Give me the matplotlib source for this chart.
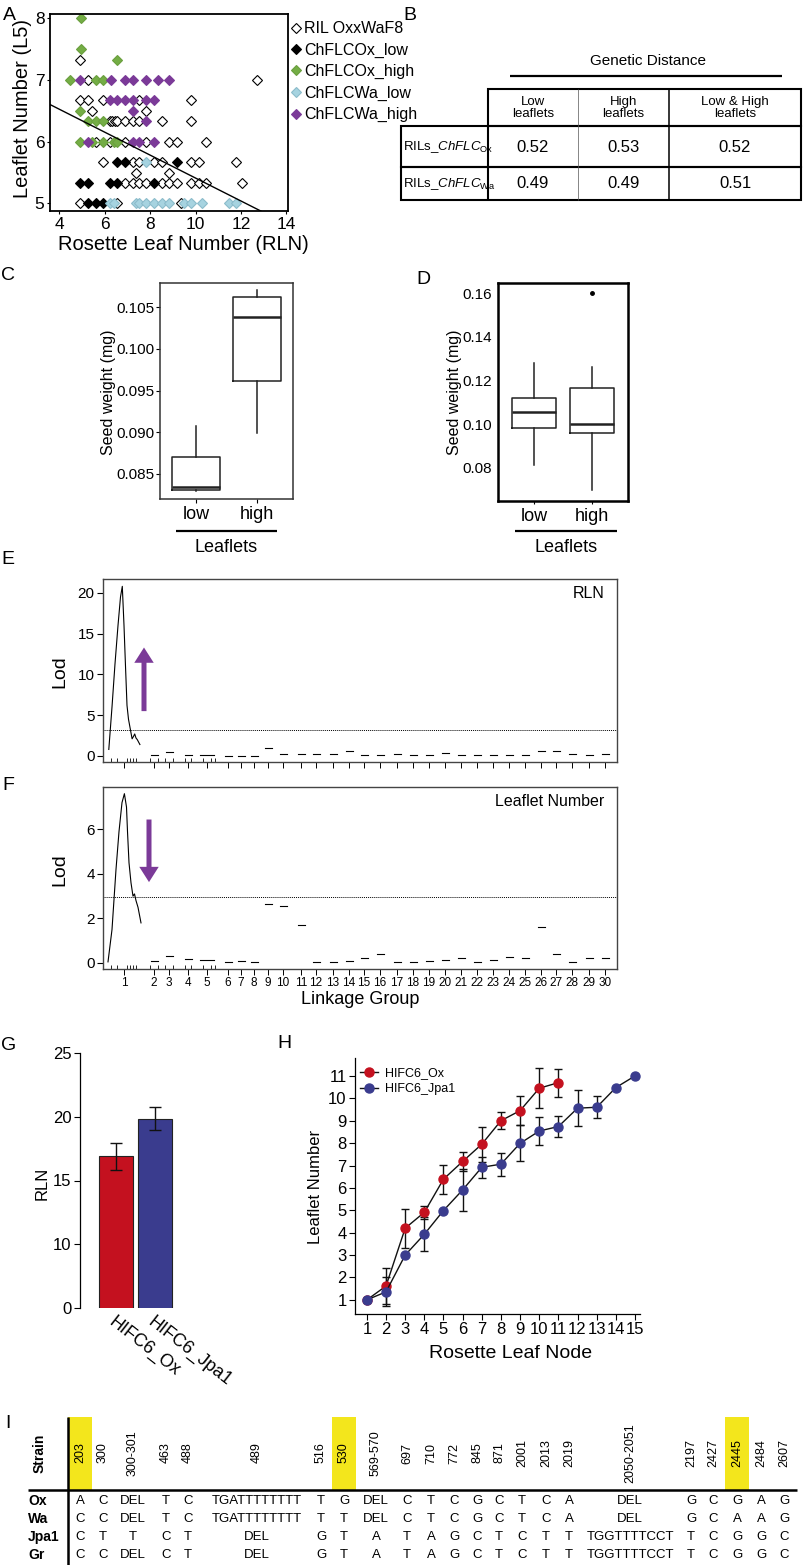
import numpy as np
import matplotlib
matplotlib.use("Agg")
from matplotlib import pyplot as plt
from matplotlib import font_manager
from matplotlib.patches import Rectangle
from matplotlib.lines import Line2D

# ---------------- data ----------------
# A: RIL scatter, rosette leaf number vs leaflet number at L5
ril_rln = [4.9, 5.27, 12.72, 4.9, 5.27, 5.93, 7.53, 9.8, 5.42, 7.82,
           6.22, 6.34, 6.44, 6.55, 6.88, 7.24, 7.53, 8.53, 9.8,
           5.6, 6.22, 6.88, 7.82, 8.85, 9.18, 10.45,
           5.93, 7.24, 7.53, 8.19, 8.53, 9.8, 10.13, 11.77, 7.36, 8.85,
           6.88, 7.24, 7.53, 7.82, 8.53, 8.85, 9.18, 9.8, 10.13, 10.45, 12.06,
           4.9, 6.55, 9.36]
ril_l5 = [7.33, 7.0, 7.0, 6.67, 6.67, 6.67, 6.67, 6.67, 6.5, 6.5,
          6.33, 6.33, 6.33, 6.33, 6.33, 6.33, 6.33, 6.33, 6.33,
          6.0, 6.0, 6.0, 6.0, 6.0, 6.0, 6.0,
          5.67, 5.67, 5.67, 5.67, 5.67, 5.67, 5.67, 5.67, 5.5, 5.5,
          5.33, 5.33, 5.33, 5.33, 5.33, 5.33, 5.33, 5.33, 5.33, 5.33, 5.33,
          5.0, 5.0, 5.0]
oxlow_rln = [6.54, 6.88, 9.18, 4.9, 5.27, 6.22, 6.54, 8.19, 5.27, 5.6, 5.93]
oxlow_l5 = [5.67, 5.67, 5.67, 5.33, 5.33, 5.33, 5.33, 5.33, 5.0, 5.0, 5.0]
oxhigh_rln = [4.95, 4.95, 6.55, 4.47, 5.6, 5.93, 4.9, 5.27, 5.63, 5.93,
              4.9, 5.42, 5.93, 6.39, 6.54]
oxhigh_l5 = [8.0, 7.5, 7.33, 7.0, 7.0, 7.0, 6.5, 6.33, 6.33, 6.33,
             6.0, 6.0, 6.0, 6.0, 6.0]
walow_rln = [7.82, 6.22, 6.39, 7.36, 7.53, 7.82, 8.19, 8.53, 8.85, 9.47,
             9.8, 10.28, 11.45, 11.77]
walow_l5 = [5.67, 5.0, 5.0, 5.0, 5.0, 5.0, 5.0, 5.0, 5.0, 5.0,
            5.0, 5.0, 5.0, 5.0]
wahigh_rln = [4.9, 6.26, 6.88, 7.24, 7.8, 8.34, 8.85,
              6.22, 6.54, 6.88, 7.24, 7.82, 8.19, 7.24, 7.82,
              5.27, 7.24, 7.53, 8.19]
wahigh_l5 = [7.0, 7.0, 7.0, 7.0, 7.0, 7.0, 7.0,
             6.67, 6.67, 6.67, 6.67, 6.67, 6.67, 6.5, 6.33,
             6.0, 6.0, 6.0, 6.0]
fit_intercept = 7.27
fit_slope = -0.186

# B: genetic distance table
b_cols = ['Low\nleaflets', 'High\nleaflets', 'Low & High\nleaflets']
b_rows = [r'RILs_$\mathit{ChFLC}_{\mathrm{Ox}}$', r'RILs_$\mathit{ChFLC}_{\mathrm{Wa}}$']
b_vals = [[0.52, 0.53, 0.52], [0.49, 0.49, 0.51]]

# C, D: seed weight boxplots (low / high leaflets)
groups = ['low', 'high']
c_stats = [dict(whislo=0.0829, q1=0.0831, med=0.0834, q3=0.0870, whishi=0.0907, fliers=[]),
           dict(whislo=0.0899, q1=0.0961, med=0.1038, q3=0.1062, whishi=0.1071, fliers=[])]
d_stats = [dict(whislo=0.0814, q1=0.0984, med=0.1055, q3=0.1119, whishi=0.1279, fliers=[]),
           dict(whislo=0.0699, q1=0.0961, med=0.1000, q3=0.1164, whishi=0.1260, fliers=[0.1599])]

# E, F: QTL scans along linkage groups (genome-wide position units)
lg_center = [21, 51, 66, 85, 104, 125, 138, 151, 165, 180, 198, 213, 230, 246, 261,
             277, 294, 310, 326, 342, 358, 374, 390, 406, 422, 438, 453, 469, 486, 502]
marker_pos = [8, 14, 24, 27, 30, 33, 47, 55, 62, 70, 82, 88, 100, 108, 112]
rln_lg1_pos = [5.8, 9, 12, 15, 17.5, 19.3, 21, 22.5, 24, 25.5, 27.6, 29.1, 30.5, 31.7, 33, 34.3, 36.9]
rln_lg1_lod = [0.8, 6, 11.3, 16, 19.5, 20.8, 16, 11, 6.2, 4.5, 3.1, 2.1, 2.4, 2.7, 2.2, 2.0, 1.4]
rln_lod_other = [0.1, 0.5, 0.1, 0.15, 0.05, 0.05, 0.05, 1.0, 0.3, 0.3, 0.2, 0.2, 0.6, 0.15, 0.15,
                 0.3, 0.15, 0.15, 0.4, 0.15, 0.15, 0.15, 0.15, 0.15, 0.6, 0.6, 0.2, 0.15, 0.2]
leaf_lg1_pos = [5, 9, 13, 16, 19, 21.4, 23.5, 24.5, 26, 28, 30, 31.5, 33, 35, 38]
leaf_lg1_lod = [0.05, 1.5, 4.2, 5.9, 7.2, 7.6, 7.0, 5.9, 4.5, 3.6, 3.0, 3.1, 2.8, 2.5, 1.8]
leaf_lod_other = [0.1, 0.3, 0.2, 0.15, 0.05, 0.1, 0.05, 2.65, 2.55, 1.7, 0.03, 0.03, 0.09, 0.21, 0.4,
                  0.03, 0.03, 0.09, 0.13, 0.21, 0.03, 0.13, 0.25, 0.21, 1.6, 0.4, 0.03, 0.21, 0.21]
rln_threshold = 3.16
leaf_threshold = 2.98

# G: RLN of HIFs
g_lines = ['HIFC6_Ox', 'HIFC6_Jpa1']
g_rln = [16.9, 19.85]
g_err = [1.08, 0.88]

# H: leaflet number per rosette leaf node
ox_node = np.arange(1, 12)
ox_leaflets = [1.0, 1.62, 4.2, 4.91, 6.39, 7.18, 7.95, 9.0, 9.45, 10.45, 10.7]
ox_sem = [0, 0.82, 0.87, 0.3, 0.64, 0.41, 0.78, 0.37, 0.65, 0.9, 0.62]
jpa_node = np.arange(1, 16)
jpa_leaflets = [1.0, 1.36, 3.0, 3.93, 4.99, 5.91, 6.92, 7.06, 7.99, 8.54, 8.74, 9.56, 9.6, 10.48, 11.0]
jpa_sem = [0, 0.64, 0, 0.76, 0, 0.93, 0.47, 0.52, 0.8, 0.64, 0.47, 0.8, 0.5, 0, 0]

# I: polymorphisms in ChFLC
site_labels = ['203', '300', '300-301', '463', '488', '489', '516', '530', '569-570', '697', '710',
               '772', '845', '871', '2001', '2013', '2019', '2050-2051', '2197', '2427', '2445',
               '2484', '2607']
strains = ['Ox', 'Wa', 'Jpa1', 'Gr']
alleles_ox = ['A', 'C', 'DEL', 'T', 'C', 'TGATTTTTTTT', 'T', 'G', 'DEL', 'C', 'T', 'C', 'G', 'C',
              'T', 'C', 'A', 'DEL', 'G', 'C', 'G', 'A', 'G']
alleles_wa = ['C', 'C', 'DEL', 'T', 'C', 'TGATTTTTTTT', 'T', 'T', 'DEL', 'C', 'T', 'C', 'G', 'C',
              'T', 'C', 'A', 'DEL', 'G', 'C', 'A', 'A', 'G']
alleles_jpa1 = ['C', 'T', 'T', 'C', 'T', 'DEL', 'G', 'T', 'A', 'T', 'A', 'G', 'C', 'T',
                'C', 'T', 'T', 'TGGTTTTCCT', 'T', 'C', 'G', 'G', 'C']
alleles_gr = ['C', 'C', 'DEL', 'C', 'T', 'DEL', 'G', 'T', 'A', 'T', 'A', 'G', 'C', 'T',
              'C', 'T', 'T', 'TGGTTTTCCT', 'T', 'C', 'G', 'G', 'C']
highlight_sites = ['203', '530', '2445']

# ---------------- layout helpers ----------------
W, H = 805, 1565
plt.rcParams['font.family'] = ['Liberation Sans', 'DejaVu Sans']
plt.rcParams['mathtext.fontset'] = 'custom'
plt.rcParams['mathtext.rm'] = 'Liberation Sans'
plt.rcParams['mathtext.it'] = 'Liberation Sans:italic'

try:
    font_manager.findfont('Liberation Sans Narrow', fallback_to_default=False)
    NARROW = 'Liberation Sans Narrow'
except ValueError:
    NARROW = 'Liberation Sans'

PURPLE = '#7b3a98'
RED = '#c4111f'
BLUE = '#3a3c8e'


def box(left, top, right, bottom):
    return [left / W, 1 - bottom / H, (right - left) / W, (bottom - top) / H]


fig = plt.figure(figsize=(W / 100, H / 100), dpi=100)
ov = fig.add_axes([0, 0, 1, 1])
ov.set_xlim(0, W)
ov.set_ylim(H, 0)
ov.axis('off')


def hline(x0, x1, y, lw=1.5, color='black'):
    ov.plot([x0, x1], [y, y], color=color, lw=lw, solid_capstyle='butt')


def vline(x, y0, y1, lw=1.5, color='black'):
    ov.plot([x, x], [y0, y1], color=color, lw=lw, solid_capstyle='butt')


for lab, (x, y) in zip('ABCDEFGHI', [(9, 15), (410, 15), (8, 275), (423, 280), (8, 560),
                                     (8, 786), (9, 1045), (284, 1043), (8, 1423)]):
    ov.text(x, y, lab, fontsize=14, ha='center', va='center')

# ---------------- A ----------------
axA = fig.add_axes(box(50, 14, 288, 211))
series = [(ril_rln, ril_l5, 'white', 'black', 'RIL OxxWaF8'),
          (oxlow_rln, oxlow_l5, 'black', 'black', 'ChFLCOx_low'),
          (oxhigh_rln, oxhigh_l5, '#74ad45', '#6a9f3e', 'ChFLCOx_high'),
          (walow_rln, walow_l5, '#a6d3e0', '#8cbccb', 'ChFLCWa_low'),
          (wahigh_rln, wahigh_l5, PURPLE, PURPLE, 'ChFLCWa_high')]
for xs, ys, fc, ec, name in series:
    axA.plot(xs, ys, ls='none', marker='D', ms=5.0, mfc=fc, mec=ec, mew=0.8, label=name)
x_fit = np.array([3.59, 14.07])
axA.plot(x_fit, fit_intercept + fit_slope * x_fit, color='black', lw=1.0)
axA.set_xlim(3.59, 14.07)
axA.set_ylim(4.876, 8.07)
axA.set_xticks([4, 6, 8, 10, 12, 14])
axA.set_yticks([5, 6, 7, 8])
axA.tick_params(labelsize=12.5, length=2, width=0.8, pad=2)
for s in axA.spines.values():
    s.set_linewidth(1.3)
axA.legend(loc='upper left', bbox_to_anchor=(1.0, 0.98), borderaxespad=0, borderpad=0.2,
           frameon=False, handlelength=0.6, handletextpad=0.2, labelspacing=0.4,
           prop={'family': NARROW, 'size': 11.5})
ov.text(22, 108, 'Leaflet Number (L5)', rotation=90, ha='center', va='center', fontsize=14.5)
ov.text(183, 245, 'Rosette Leaf Number (RLN)', ha='center', va='center', fontsize=14.5)

# ---------------- B ----------------
ov.text(648, 61, 'Genetic Distance', ha='center', va='center', fontsize=11)
hline(510, 782, 76, lw=1.6)
col_x = [488, 578, 669, 801]
ov.add_patch(Rectangle((488, 89), 313, 37, fill=False, lw=1.5, ec='black'))
ov.add_patch(Rectangle((401, 126), 400, 41, fill=False, lw=1.5, ec='black'))
ov.add_patch(Rectangle((401, 167), 400, 33, fill=False, lw=1.5, ec='black'))
vline(488, 126, 200, lw=1.5)
vline(578, 89, 200, lw=0.5, color='#555555')
vline(669, 89, 200, lw=1.1)
for i, name in enumerate(b_cols):
    cx = (col_x[i] + col_x[i + 1]) / 2
    ov.text(cx, 108, name, ha='center', va='center', fontsize=9.5, linespacing=1.05)
row_y = [147, 184]
for r, name in enumerate(b_rows):
    ov.text(403, row_y[r], name, ha='left', va='center', fontsize=9.5)
    for i, v in enumerate(b_vals[r]):
        cx = (col_x[i] + col_x[i + 1]) / 2
        ov.text(cx, row_y[r], f'{v:.2f}', ha='center', va='center', fontsize=12, family=NARROW)

# ---------------- C & D ----------------
box_kw = dict(showcaps=False, patch_artist=False,
              boxprops=dict(color='#222222', lw=1.1),
              whiskerprops=dict(color='#222222', lw=1.1),
              medianprops=dict(color='#222222', lw=1.8),
              flierprops=dict(marker='o', ms=2.5, mfc='black', mec='black'))

axC = fig.add_axes(box(160, 283, 293, 499))
axC.bxp(c_stats, positions=[1, 2], widths=0.8, **box_kw)
axC.set_xlim(0.41, 2.59)
axC.set_ylim(0.0820, 0.1079)
axC.set_yticks([0.085, 0.090, 0.095, 0.100, 0.105])
axC.set_yticklabels([f'{t:.3f}' for t in [0.085, 0.090, 0.095, 0.100, 0.105]])
axC.set_xticks([1, 2], groups)
axC.tick_params(axis='y', labelsize=11, length=3, width=0.8, pad=1, labelfontfamily=NARROW)
axC.tick_params(axis='x', labelsize=13, length=3, width=0.8, pad=2)
for s in axC.spines.values():
    s.set_linewidth(1.1)
    s.set_color('#333333')
ov.text(108, 392, 'Seed weight (mg)', rotation=90, ha='center', va='center', fontsize=11.5)
hline(176, 277, 531, lw=1.6)
ov.text(226, 548, 'Leaflets', ha='center', va='center', fontsize=13)

axD = fig.add_axes(box(498, 283, 628, 501))
axD.bxp(d_stats, positions=[1, 2], widths=0.77, **box_kw)
axD.set_xlim(0.38, 2.62)
axD.set_ylim(0.0649, 0.1646)
axD.set_yticks([0.08, 0.10, 0.12, 0.14, 0.16])
axD.set_yticklabels([f'{t:.2f}' for t in [0.08, 0.10, 0.12, 0.14, 0.16]])
axD.set_xticks([1, 2], groups)
axD.tick_params(axis='y', labelsize=11, length=0, pad=4, labelfontfamily=NARROW)
axD.tick_params(axis='x', labelsize=13, length=2, width=0.8, pad=3)
for s in axD.spines.values():
    s.set_linewidth(1.8)
ov.text(454, 392, 'Seed weight (mg)', rotation=90, ha='center', va='center', fontsize=11.5)
hline(515, 617, 531, lw=1.6)
ov.text(566, 548, 'Leaflets', ha='center', va='center', fontsize=13)


# ---------------- E & F ----------------
def qtl_panel(rect, lg1_pos, lg1_lod, other, thr, ylim, yticks, title, arrow, show_labels):
    ax = fig.add_axes(rect)
    ax.plot(lg1_pos, lg1_lod, color='black', lw=0.8)
    for c, v in zip(lg_center[1:], other):
        half = 7 if c == lg_center[4] else 3.5
        ax.plot([c - half, c + half], [v, v], color='black', lw=0.8)
    ax.axhline(thr, color='black', lw=0.7, ls=(0, (1, 1)))
    ax.set_xlim(0, 514)
    ax.set_ylim(*ylim)
    ax.set_yticks(yticks)
    ax.set_xticks(lg_center)
    ax.set_xticks(marker_pos, minor=True)
    if show_labels:
        ax.set_xticklabels([str(i + 1) for i in range(len(lg_center))])
    else:
        ax.set_xticklabels([])
    ax.tick_params(axis='y', labelsize=11, length=4, width=0.8, pad=2, labelfontfamily=NARROW)
    ax.tick_params(axis='x', which='major', labelsize=8.5, length=4, width=0.7, pad=2)
    ax.tick_params(axis='x', which='minor', length=3, width=0.6, direction='in')
    for s in ax.spines.values():
        s.set_linewidth(1.0)
        s.set_color('#444444')
    ax.text(0.975, 0.92, title, transform=ax.transAxes, ha='right', va='center',
            fontsize=11.5, family=NARROW)
    ax.annotate('', xy=(arrow[0], arrow[2]), xytext=(arrow[0], arrow[1]),
                arrowprops=dict(arrowstyle='simple,head_length=11,head_width=14,tail_width=3.6',
                                mutation_scale=1, color=PURPLE, shrinkA=0, shrinkB=0, lw=0))
    return ax


axE = qtl_panel(box(103, 579, 617, 762), rln_lg1_pos, rln_lg1_lod, rln_lod_other, rln_threshold,
                (-0.74, 21.7), [0, 5, 10, 15, 20], 'RLN', (41, 5.5, 13.3), False)
ov.text(60, 672, 'Lod', rotation=90, ha='center', va='center', fontsize=14)

axF = qtl_panel(box(103, 787, 617, 969), leaf_lg1_pos, leaf_lg1_lod, leaf_lod_other, leaf_threshold,
                (-0.27, 7.9), [0, 2, 4, 6], 'Leaflet Number', (46, 6.44, 3.63), True)
ov.text(60, 870, 'Lod', rotation=90, ha='center', va='center', fontsize=14)
ov.text(360, 999, 'Linkage Group', ha='center', va='center', fontsize=13)

# ---------------- G ----------------
axG = fig.add_axes(box(80, 1053, 185, 1308))
axG.bar([1, 2], g_rln, width=0.87, color=[RED, BLUE], edgecolor='#222222', lw=0.8)
axG.errorbar([1, 2], g_rln, yerr=g_err, fmt='none', ecolor='#111111', elinewidth=1.0,
             capsize=4, capthick=1.0)
axG.set_xlim(0.08, 2.77)
axG.set_ylim(5, 25)
axG.set_yticks([5, 10, 15, 20, 25])
axG.set_yticklabels(['0', '10', '15', '20', '25'])
for side in ['top', 'right', 'bottom']:
    axG.spines[side].set_visible(False)
axG.spines['left'].set_linewidth(0.9)
axG.set_xticks([1, 2])
axG.set_xticklabels(g_lines, rotation=-38, ha='left', va='top', rotation_mode='anchor')
axG.tick_params(axis='x', length=0, pad=4, labelsize=13)
axG.tick_params(axis='y', labelsize=12, length=4, width=0.8, pad=2)
ov.text(42, 1183, 'RLN', rotation=90, ha='center', va='center', fontsize=12)

# ---------------- H ----------------
axH = fig.add_axes(box(355, 1058, 640, 1314))
for node, val, sem, col in [(ox_node, ox_leaflets, ox_sem, RED), (jpa_node, jpa_leaflets, jpa_sem, BLUE)]:
    axH.errorbar(node, val, yerr=sem, fmt='-o', color='#111111', lw=1.0, ms=6.5,
                 mfc=col, mec=col, ecolor='#111111', elinewidth=1.0, capsize=3, capthick=1.0)
axH.set_xlim(0.38, 15.26)
axH.set_ylim(0.37, 11.8)
axH.set_xticks(range(1, 16))
axH.set_yticks(range(1, 12))
for side in ['top', 'right']:
    axH.spines[side].set_visible(False)
for side in ['left', 'bottom']:
    axH.spines[side].set_linewidth(0.9)
axH.tick_params(labelsize=12, length=4, width=0.8, pad=2)
h_handles = [Line2D([], [], color='#111111', lw=1.0, marker='o', ms=6.5, mfc=c, mec=c)
             for c in [RED, BLUE]]
axH.legend(h_handles, ['HIFC6_Ox', 'HIFC6_Jpa1'], loc='upper left', bbox_to_anchor=(0.0, 0.984),
           borderaxespad=0, frameon=False, fontsize=9, handlelength=1.4, handletextpad=0.6,
           labelspacing=0.35)
ov.text(315, 1187, 'Leaflet Number', rotation=90, ha='center', va='center', fontsize=12)
ov.text(511, 1353, 'Rosette Leaf Node', ha='center', va='center', fontsize=14)

# ---------------- I ----------------
site_x = [80, 103, 133, 166, 188, 257, 321, 344, 376, 407, 431, 454, 477, 499, 522, 546, 569,
          630, 691, 713, 737, 761, 784]
for site, x in zip(site_labels, site_x):
    if site in highlight_sites:
        ov.add_patch(Rectangle((x - 12, 1417), 24, 73, color='#f3e61c', lw=0, zorder=0))
    ov.text(x, 1453, site, rotation=90, ha='center', va='center', fontsize=9)
ov.text(40, 1453, 'Strain', rotation=90, ha='center', va='center', fontsize=10, fontweight='bold')
vline(68, 1417, 1565, lw=1.8)
hline(28, 797, 1490, lw=1.8)
strain_y = [1501, 1519, 1537, 1555]
for name, calls, y in zip(strains, [alleles_ox, alleles_wa, alleles_jpa1, alleles_gr], strain_y):
    ov.text(28, y, name, ha='left', va='center', fontsize=10, fontweight='bold')
    for x, a in zip(site_x, calls):
        ov.text(x, y, a, ha='center', va='center', fontsize=9.5)

fig.savefig('out.png', dpi=100)
